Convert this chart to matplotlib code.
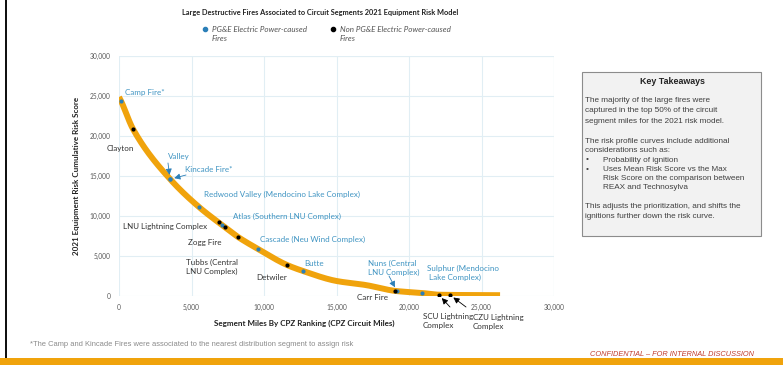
import matplotlib
matplotlib.use("Agg")
import numpy as np
import matplotlib.pyplot as plt
from matplotlib.patches import Rectangle

# ---------------- data ----------------
curve_x = [0, 140, 965, 3517, 5517, 7100, 8210, 9590, 11590, 12690, 15000, 17000, 19100, 20900, 22070, 24000, 26280]
curve_y = [24875, 24375, 20875, 14625, 11125, 8875, 7375, 5875, 3875, 3125, 1875, 1375, 625, 375, 160, 120, 100]

pge_names = ["Camp Fire*", "Valley", "Kincade Fire*", "Redwood Valley (Mendocino Lake Complex)",
             "Atlas (Southern LNU Complex)", "Cascade (Neu Wind Complex)", "Butte",
             "Nuns (Central\nLNU Complex)", "Sulphur (Mendocino\n Lake Complex)"]
pge_x = [140, 3517, 3530, 5517, 7100, 9590, 12690, 19170, 20900]
pge_y = [24375, 14625, 14600, 11125, 8875, 5875, 3125, 625, 375]

non_names = ["Clayton", "LNU Lightning Complex", "Zogg Fire", "Tubbs (Central\nLNU Complex)",
             "Detwiler", "Carr Fire", "SCU Lightning\nComplex", "CZU Lightning\nComplex"]
non_x = [965, 6900, 7310, 8210, 11590, 19030, 22070, 22830]
non_y = [20875, 9250, 8625, 7375, 3875, 625, 125, 125]

x_ticks = [0, 5000, 10000, 15000, 20000, 25000, 30000]
y_ticks = [0, 5000, 10000, 15000, 20000, 25000, 30000]

takeaway_title = "Key Takeaways"
takeaway_para1 = ["The majority of the large fires were",
                  "captured in the top 50% of the circuit",
                  "segment miles for the 2021 risk model."]
takeaway_para2 = ["The risk profile curves include additional",
                  "considerations such as:"]
takeaway_bullets = ["Probability of ignition",
                    "Uses Mean Risk Score vs the Max\nRisk Score on the comparison between\nREAX and Technosylva"]
takeaway_para3 = ["This adjusts the prioritization, and shifts the",
                  "ignitions further down the risk curve."]

# ---------------- style ----------------
W, H = 783, 365
ORANGE = "#F0A30C"
BLUE_PT = "#2B7FB8"
BLUE_TXT = "#3F94C2"
BLACK_TXT = "#333333"
LBL_FONT = "Lato"
FS = 5.8


def smooth(x, y, n=400):
    """Monotone cubic (Fritsch-Carlson) rendering of the read curve points."""
    x = np.asarray(x, float)
    y = np.asarray(y, float)
    h = np.diff(x)
    d = np.diff(y) / h
    m = np.zeros_like(x)
    m[0], m[-1] = d[0], d[-1]
    for i in range(1, len(x) - 1):
        if d[i - 1] * d[i] <= 0:
            m[i] = 0
        else:
            w1 = 2 * h[i] + h[i - 1]
            w2 = h[i] + 2 * h[i - 1]
            m[i] = (w1 + w2) / (w1 / d[i - 1] + w2 / d[i])
    xs = np.linspace(x[0], x[-1], n)
    idx = np.clip(np.searchsorted(x, xs) - 1, 0, len(x) - 2)
    t = (xs - x[idx]) / h[idx]
    h00 = 2 * t**3 - 3 * t**2 + 1
    h10 = t**3 - 2 * t**2 + t
    h01 = -2 * t**3 + 3 * t**2
    h11 = t**3 - t**2
    ys = h00 * y[idx] + h10 * h[idx] * m[idx] + h01 * y[idx + 1] + h11 * h[idx] * m[idx + 1]
    return xs, ys


fig = plt.figure(figsize=(W / 100, H / 100), dpi=100)
fig.patch.set_facecolor("white")


def fp(px, py):
    return (px / W, 1 - py / H)


ax = fig.add_axes([119 / W, 1 - 296 / H, (554 - 119) / W, (296 - 56) / H])
ax.set_xlim(0, 30000)
ax.set_ylim(0, 30000)
ax.set_xticks(x_ticks)
ax.set_yticks(y_ticks)
ax.set_xticklabels([f"{v:,}" for v in x_ticks], fontsize=4.8, color="#595959", family=LBL_FONT)
ax.set_yticklabels([f"{v:,}" for v in y_ticks], fontsize=4.8, color="#595959", family=LBL_FONT)
ax.tick_params(length=0, pad=6)
for s in ax.spines.values():
    s.set_visible(False)
ax.grid(True, color="#E1EEF4", linewidth=0.8)
ax.set_axisbelow(True)
ax.axhline(30000, color="#E1EEF4", lw=0.8, zorder=0)
ax.axvline(30000, color="#E1EEF4", lw=0.8, zorder=0)

sx, sy = smooth(curve_x, curve_y)
ax.plot(sx, sy, color=ORANGE, lw=4.3, solid_capstyle="butt", solid_joinstyle="round", zorder=2)
ax.scatter(pge_x, pge_y, s=9, color=BLUE_PT, zorder=3, linewidths=0)
ax.scatter(non_x, non_y, s=9, color="black", zorder=3, linewidths=0)

# label layout (pixel positions: left, center-y)
pge_pos = [(125, 93), (168, 156), (185, 169), (204, 194), (233, 216), (260, 239), (304, 263), (368, 268), (427, 273)]
non_pos = [(107, 148), (123, 226), (188, 242), (186, 267), (256, 277), (357, 298), (423, 321), (473, 322)]

for name, (px, py) in zip(pge_names, pge_pos):
    fig.text(*fp(px, py), name, color=BLUE_TXT, fontsize=FS, family=LBL_FONT, ha="left", va="center", linespacing=1.25)
for name, (px, py) in zip(non_names, non_pos):
    fig.text(*fp(px, py), name, color=BLACK_TXT, fontsize=FS, family=LBL_FONT, ha="left", va="center", linespacing=1.25)

arrow_specs = [
    ((pge_x[1], pge_y[1]), (168, 163), BLUE_PT),
    ((pge_x[2], pge_y[2]), (186, 175), BLUE_PT),
    ((pge_x[7], pge_y[7]), (389, 276), BLUE_PT),
    ((non_x[6], non_y[6]), (450, 307), "black"),
    ((non_x[7], non_y[7]), (466, 307), "black"),
]
for (tx, ty), (ax_px, ay_px), c in arrow_specs:
    ax.annotate("", xy=(tx, ty), xycoords="data", xytext=fp(ax_px, ay_px), textcoords="figure fraction",
                arrowprops=dict(arrowstyle="-|>,head_length=0.35,head_width=0.18", color=c, lw=0.6,
                                shrinkA=0, shrinkB=3))

# title & legend
fig.text(*fp(320, 12), "Large Destructive Fires Associated to Circuit Segments 2021 Equipment Risk Model",
         fontsize=5.35, fontweight="bold", family=LBL_FONT, ha="center", va="center", color="#222222")
fig.text(*fp(212, 34), "PG&E Electric Power-caused\nFires", fontsize=FS, style="italic", family=LBL_FONT,
         ha="left", va="center", color="#555555", linespacing=1.3)
fig.text(*fp(340, 34), "Non PG&E Electric Power-caused\nFires", fontsize=FS, style="italic", family=LBL_FONT,
         ha="left", va="center", color="#555555", linespacing=1.3)
fig.add_artist(plt.Line2D([205 / W], [1 - 29 / H], marker="o", markersize=3, color=BLUE_PT, transform=fig.transFigure))
fig.add_artist(plt.Line2D([333 / W], [1 - 29 / H], marker="o", markersize=3, color="black", transform=fig.transFigure))

# axis labels
fig.text(*fp(304, 323), "Segment Miles By CPZ Ranking (CPZ Circuit Miles)", fontsize=5.8, fontweight="bold",
         family=LBL_FONT, ha="center", va="center", color="#222222")
fig.text(*fp(76, 176), "2021 Equipment Risk Cumulative Risk Score", fontsize=5.8, fontweight="bold",
         family=LBL_FONT, ha="center", va="center", rotation=90, color="#222222")

# key takeaways box
fig.add_artist(Rectangle(fp(582, 236), (761 - 582) / W, (236 - 72) / H, transform=fig.transFigure,
                         facecolor="#F2F2F2", edgecolor="#8C8C8C", lw=0.8))
BF = "Liberation Sans"
BFS = 5.9
TC = "#404040"
fig.text(*fp(672, 81), takeaway_title, fontsize=6.4, fontweight="bold", family=BF, ha="center", va="center", color="#222222")
for t, y in zip(takeaway_para1, [101, 111, 121]):
    fig.text(*fp(585, y), t, fontsize=BFS, family=BF, ha="left", va="center", color=TC)
for t, y in zip(takeaway_para2, [141, 150.5]):
    fig.text(*fp(585, y), t, fontsize=BFS, family=BF, ha="left", va="center", color=TC)
fig.text(*fp(586, 160), "\u2022", fontsize=BFS, family=BF, ha="left", va="center", color=TC)
fig.text(*fp(603, 160), takeaway_bullets[0], fontsize=BFS, family=BF, ha="left", va="center", color=TC)
fig.text(*fp(586, 169.5), "\u2022", fontsize=BFS, family=BF, ha="left", va="center", color=TC)
fig.text(*fp(603, 178.5), takeaway_bullets[1], fontsize=BFS, family=BF, ha="left", va="center", color=TC,
         linespacing=1.32)
for t, y in zip(takeaway_para3, [206.5, 216]):
    fig.text(*fp(585, y), t, fontsize=BFS, family=BF, ha="left", va="center", color=TC)

# footer
fig.text(*fp(30, 345), "*The Camp and Kincade Fires were associated to the nearest distribution segment to assign risk",
         fontsize=5.4, family=BF, ha="left", va="center", color="#8A8A8A")
fig.text(*fp(590, 354), "CONFIDENTIAL \u2013 FOR INTERNAL DISCUSSION", fontsize=5.35, family=BF, style="italic",
         ha="left", va="center", color="#C0392B")
fig.add_artist(Rectangle((0, 0), 1, 7 / H, transform=fig.transFigure, facecolor=ORANGE, edgecolor="none"))
fig.add_artist(Rectangle((5 / W, 7 / H), 2 / W, 1 - 7 / H, transform=fig.transFigure, facecolor="#111111", edgecolor="none"))

fig.savefig("out.png", dpi=100)
